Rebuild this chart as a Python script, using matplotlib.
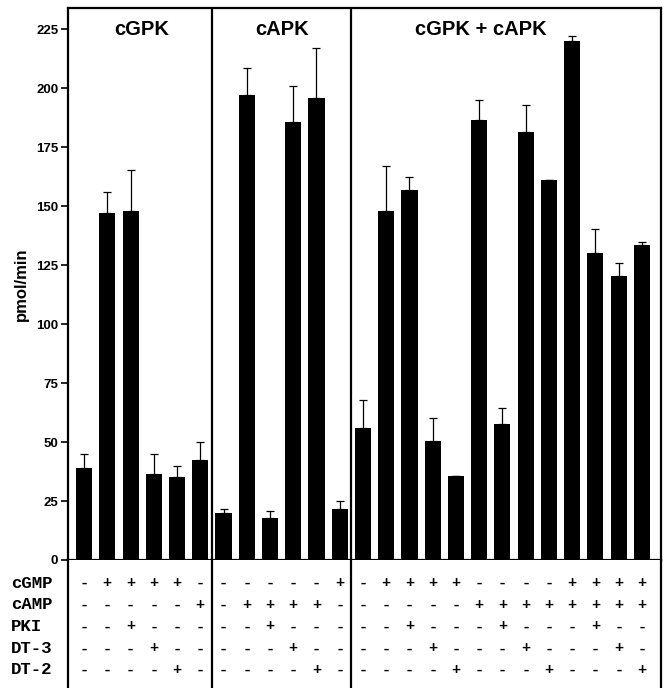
import matplotlib
matplotlib.use("Agg")
import matplotlib.pyplot as plt
from matplotlib import transforms

# --- dane ---
groups = ["cGPK", "cAPK", "cGPK + cAPK"]
group_sizes = [6, 6, 13]

values = [39, 147, 148, 36.5, 35, 42.5,
          20, 197, 18, 185.5, 196, 21.5,
          56, 148, 157, 50.5, 35.5, 186.5, 57.5, 181.5, 161, 220, 130, 120.5, 133.5]
errors = [6, 9, 17.5, 8.5, 5, 7.5,
          1.5, 11.5, 2.8, 15.3, 21, 3.4,
          12, 19, 5.5, 9.5, 0, 8.5, 7, 11.5, 0, 2, 10.3, 5.5, 1.2]

row_labels = ["cGMP", "cAMP", "PKI", "DT-3", "DT-2"]
cgmp = list("-++++-" + "-----+" + "-++++----++++")
camp = list("-----+" + "-++++-" + "-----++++++++")
pki = list("--+---" + "--+---" + "--+---+---+--")
dt3 = list("---+--" + "---+--" + "---+---+---+-")
dt2 = list("----+-" + "----+-" + "----+---+---+")
table_rows = [cgmp, camp, pki, dt3, dt2]

yticks = [0, 25, 50, 75, 100, 125, 150, 175, 200, 225]

# --- rysowanie ---
fig = plt.figure(figsize=(6.68, 6.88), dpi=100)
left, right = 68 / 668, 661 / 668
bottom, top = 1 - 560 / 688, 1 - 8 / 688
ax = fig.add_axes([left, bottom, right - left, top - bottom])

x = list(range(len(values)))
ax.bar(x, values, width=0.69, color="black", zorder=3)
ax.errorbar(x, values, yerr=[[0] * len(errors), errors], fmt="none",
            ecolor="black", elinewidth=0.9, capsize=3, capthick=0.9, zorder=2)

xlo, xhi = -0.69, len(values) - 1 + 0.82
ax.set_xlim(xlo, xhi)
ax.set_ylim(0, 234)
ax.set_xticks([])
ax.set_yticks(yticks)
ax.tick_params(axis="y", direction="out", length=5, width=1.2, pad=2)
for lab in ax.get_yticklabels():
    lab.set_fontfamily("Liberation Sans")
    lab.set_fontweight("bold")
    lab.set_fontsize(9.5)
for s in ax.spines.values():
    s.set_linewidth(1.6)
ax.set_ylabel("pmol/min", fontfamily="Liberation Sans", fontweight="bold",
              fontsize=12, labelpad=5)

# linie dzielace grupy i tytuly (trzeci tytul przesuniety w lewo jak w oryginale)
title_shift = [0, 0, -0.95]
pos = 0
for name, n, dx in zip(groups, group_sizes, title_shift):
    start, end = pos - 0.5, pos + n - 0.5
    if pos > 0:
        ax.axvline(start, color="black", lw=1.6)
    ax.text((max(start, xlo) + min(end, xhi)) / 2 + dx, 225, name,
            ha="center", va="center",
            fontfamily="Liberation Sans", fontweight="bold", fontsize=14.5)
    pos += n

# --- tabela pod wykresem ---
tax = fig.add_axes([left, 0, right - left, bottom])
tax.set_xlim(xlo, xhi)
tax.set_ylim(4.83, -1.06)
tax.set_xticks([])
tax.set_yticks([])
tax.spines["top"].set_visible(False)
tax.spines["bottom"].set_visible(False)
for s in ("left", "right"):
    tax.spines[s].set_linewidth(1.6)
pos = 0
for n in group_sizes[:-1]:
    pos += n
    tax.axvline(pos - 0.5, color="black", lw=1.6)

label_tr = transforms.blended_transform_factory(fig.transFigure, tax.transData)
for r, (lab, row) in enumerate(zip(row_labels, table_rows)):
    fig.text(11 / 668, r, lab, transform=label_tr, ha="left", va="center",
             fontfamily="Liberation Mono", fontsize=12.5, fontweight="bold")
    for i, sign in enumerate(row):
        tax.text(i, r, sign, ha="center", va="center",
                 fontfamily="Liberation Mono", fontsize=11, fontweight="bold")

fig.savefig("out.png", dpi=100)
